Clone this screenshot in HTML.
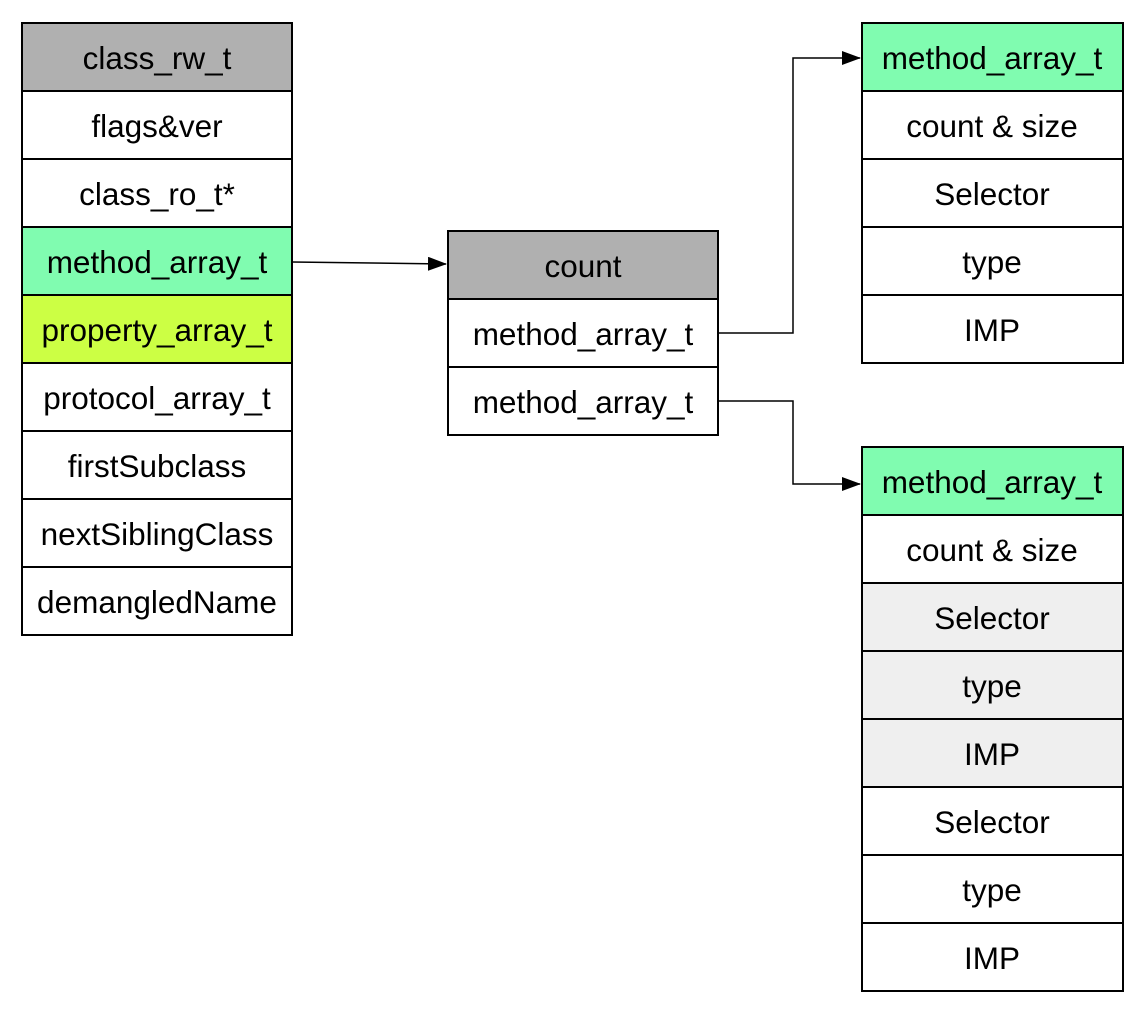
<!DOCTYPE html>
<html><head><style>body{margin:0;background:#fff}text{font-family:"Liberation Sans",Arial,sans-serif;font-size:31.5px;text-anchor:middle;dominant-baseline:central;fill:#000}</style></head>
<body>
<svg width="1146" height="1014" xmlns="http://www.w3.org/2000/svg">
<defs><marker id="a" markerWidth="20" markerHeight="14" refX="18" refY="7" orient="auto" markerUnits="userSpaceOnUse"><path d="M0,0 L19,7 L0,14 z" fill="#000"/></marker></defs>
<g stroke="#000" stroke-width="2">
<rect x="22" y="23" width="270" height="68" fill="#b0b0b0"/>
<rect x="22" y="91" width="270" height="68" fill="#fff"/>
<rect x="22" y="159" width="270" height="68" fill="#fff"/>
<rect x="22" y="227" width="270" height="68" fill="#80fcb0"/>
<rect x="22" y="295" width="270" height="68" fill="#ccff44"/>
<rect x="22" y="363" width="270" height="68" fill="#fff"/>
<rect x="22" y="431" width="270" height="68" fill="#fff"/>
<rect x="22" y="499" width="270" height="68" fill="#fff"/>
<rect x="22" y="567" width="270" height="68" fill="#fff"/>
<rect x="448" y="231" width="270" height="68" fill="#b0b0b0"/>
<rect x="448" y="299" width="270" height="68" fill="#fff"/>
<rect x="448" y="367" width="270" height="68" fill="#fff"/>
<rect x="862" y="23" width="261" height="68" fill="#80fcb0"/>
<rect x="862" y="91" width="261" height="68" fill="#fff"/>
<rect x="862" y="159" width="261" height="68" fill="#fff"/>
<rect x="862" y="227" width="261" height="68" fill="#fff"/>
<rect x="862" y="295" width="261" height="68" fill="#fff"/>
<rect x="862" y="447" width="261" height="68" fill="#80fcb0"/>
<rect x="862" y="515" width="261" height="68" fill="#fff"/>
<rect x="862" y="583" width="261" height="68" fill="#efefef"/>
<rect x="862" y="651" width="261" height="68" fill="#efefef"/>
<rect x="862" y="719" width="261" height="68" fill="#efefef"/>
<rect x="862" y="787" width="261" height="68" fill="#fff"/>
<rect x="862" y="855" width="261" height="68" fill="#fff"/>
<rect x="862" y="923" width="261" height="68" fill="#fff"/>
</g>
<g stroke="#000" stroke-width="1.5" fill="none">
<path d="M292,262 L446,264" marker-end="url(#a)"/>
<path d="M718,333 L793,333 L793,58 L860,58" marker-end="url(#a)"/>
<path d="M718,401 L793,401 L793,484 L860,484" marker-end="url(#a)"/>
</g>
<text x="157" y="58">class_rw_t</text>
<text x="157" y="126">flags&amp;ver</text>
<text x="157" y="194">class_ro_t*</text>
<text x="157" y="262">method_array_t</text>
<text x="157" y="330">property_array_t</text>
<text x="157" y="398">protocol_array_t</text>
<text x="157" y="466">firstSubclass</text>
<text x="157" y="534">nextSiblingClass</text>
<text x="157" y="602">demangledName</text>
<text x="583" y="266">count</text>
<text x="583" y="334">method_array_t</text>
<text x="583" y="402">method_array_t</text>
<text x="992" y="58">method_array_t</text>
<text x="992" y="126">count &amp; size</text>
<text x="992" y="194">Selector</text>
<text x="992" y="262">type</text>
<text x="992" y="330">IMP</text>
<text x="992" y="482">method_array_t</text>
<text x="992" y="550">count &amp; size</text>
<text x="992" y="618">Selector</text>
<text x="992" y="686">type</text>
<text x="992" y="754">IMP</text>
<text x="992" y="822">Selector</text>
<text x="992" y="890">type</text>
<text x="992" y="958">IMP</text>
</svg>
</body></html>
